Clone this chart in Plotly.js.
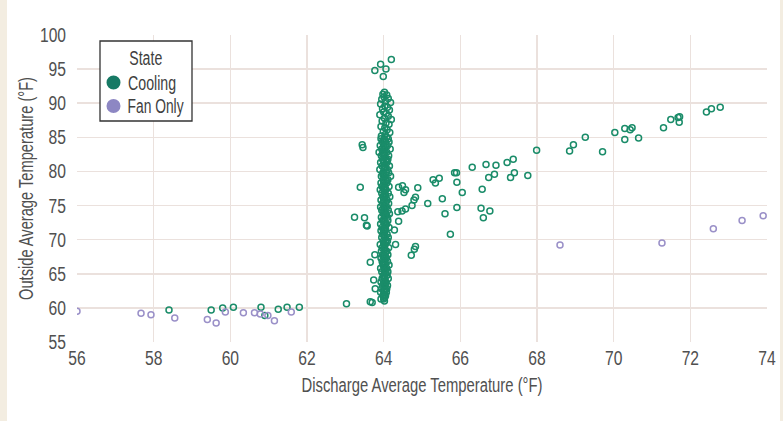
<!DOCTYPE html>
<html>
<head>
<meta charset="utf-8">
<script src="https://cdn.plot.ly/plotly-3.0.1.min.js"></script>
<style>
html,body{margin:0;padding:0;background:#fff;}
#chart{width:783px;height:421px;}
</style>
</head>
<body>
<div id="chart"></div>
<script>
// ---- Data ----
// Cooling: the dense column at ~64 °F discharge
var columnX = [
  64.02,63.98,64.08,64.01,64.12,63.95,64.05,64.18,63.92,64.03,64.10,63.97,64.15,64.00,64.07,63.90,64.12,64.02,64.20,63.96,64.06,64.14,63.93,64.03,64.09,63.99,64.16,64.04,63.94,64.08,
  64.01,63.93,64.12, 64.05,63.97,64.14, 64.00,64.10,63.91, 64.03,63.95,64.17, 64.08,63.99,63.88,
  64.02,64.13,63.94, 64.06,63.97,64.11, 64.00,64.09,63.92, 64.04,63.96,64.15, 64.01,64.10,63.90,
  64.07,63.98,64.13, 64.02,63.94,64.18, 64.05,63.99,64.11, 64.00,64.08,63.93, 64.03,63.96,64.14,
  64.06,64.01,63.91, 64.02,64.12,63.95, 64.04,63.98,64.16, 64.00,64.09,63.93, 64.05,63.97,64.13,
  64.02,64.08,63.92, 64.01,63.95,64.12, 64.06,63.99,64.15, 64.03,64.10,63.94, 64.00,63.97,64.11,
  64.05,64.08,63.92, 64.02,63.96,64.14, 64.04,64.00,63.93, 64.01,64.09,63.97, 64.03,63.95,64.12,
  64.06,63.99,64.10, 64.00,64.04,63.91, 64.02,63.96,64.13, 64.05,64.08,63.94, 64.01,63.97,64.11,
  64.03,64.07,63.93, 64.00,64.10,63.96, 64.04,63.98,64.14, 64.02,64.08,63.92, 64.05,63.95,64.11,
  64.01,63.99,64.09, 64.03,63.96,64.12, 64.00,64.06,63.93, 64.02,63.97,64.10, 64.04,64.08,63.95,
  64.01,63.92,64.07, 64.03,63.98,64.05, 64.00,63.93, 64.02,
  64.04,63.99, 64.06,64.01, 64.03,63.97, 64.08,64.00, 64.02,64.05, 63.98,64.04, 64.07,64.01,
  64.03,63.99, 64.05,64.02, 64.00,64.06, 64.04,63.98, 64.02,64.07, 64.01,64.03, 64.05,63.99,
  64.02,64.04, 64.06,64.00, 64.03,64.01, 63.99,64.05, 64.04,64.02, 64.01,64.06, 64.03,64.00,
  64.05,64.02, 64.00,64.04, 64.03,64.01
];
var columnY = [
  91.6,91.3,91.2,90.9,90.7,90.6,90.3,90.1,89.9,89.6,89.4,89.2,89.0,88.7,88.5,88.3,88.1,87.8,87.6,87.4,87.1,86.9,86.6,86.4,86.1,85.9,85.7,85.4,85.2,85.0,
  84.8,84.8,84.8, 84.3,84.3,84.3, 83.8,83.8,83.8, 83.3,83.3,83.3, 82.8,82.8,82.8,
  82.3,82.3,82.3, 81.8,81.8,81.8, 81.3,81.3,81.3, 80.8,80.8,80.8, 80.3,80.3,80.3,
  79.8,79.8,79.8, 79.3,79.3,79.3, 78.8,78.8,78.8, 78.3,78.3,78.3, 77.8,77.8,77.8,
  77.3,77.3,77.3, 76.8,76.8,76.8, 76.3,76.3,76.3, 75.8,75.8,75.8, 75.3,75.3,75.3,
  74.8,74.8,74.8, 74.3,74.3,74.3, 73.8,73.8,73.8, 73.3,73.3,73.3, 72.8,72.8,72.8,
  72.3,72.3,72.3, 71.8,71.8,71.8, 71.3,71.3,71.3, 70.8,70.8,70.8, 70.3,70.3,70.3,
  69.8,69.8,69.8, 69.3,69.3,69.3, 68.8,68.8,68.8, 68.3,68.3,68.3, 67.8,67.8,67.8,
  67.3,67.3,67.3, 66.8,66.8,66.8, 66.3,66.3,66.3, 65.8,65.8,65.8, 65.3,65.3,65.3,
  64.8,64.8,64.8, 64.3,64.3,64.3, 63.8,63.8,63.8, 63.3,63.3,63.3, 62.8,62.8,62.8,
  62.3,62.3,62.3, 61.8,61.8,61.8, 61.3,61.3, 61.0,
  84.55,84.55, 83.55,83.55, 82.55,82.55, 81.55,81.55, 80.55,80.55, 79.55,79.55, 78.55,78.55,
  77.55,77.55, 76.55,76.55, 75.55,75.55, 74.55,74.55, 73.55,73.55, 72.55,72.55, 71.55,71.55,
  70.55,70.55, 69.55,69.55, 68.55,68.55, 67.55,67.55, 66.55,66.55, 65.55,65.55, 64.55,64.55,
  63.55,63.55, 62.55,62.55, 61.55,61.55
];
// Cooling: scattered points away from the column
var coolingOtherX = [
  58.40,59.50,59.80,60.08,60.80,60.90,61.25,61.48,61.80,63.03,
  64.20,63.92,63.77,64.06,63.99,
  63.44,63.46,63.39,63.24,63.50,63.55,63.57,63.65,63.77,63.74,63.78,63.65,63.70,
  64.39,64.49,64.57,64.53,64.89,64.79,64.74,64.83,64.37,64.48,64.57,64.39,64.28,64.31,64.83,64.80,64.72,
  65.15,65.29,65.35,65.45,65.53,65.60,65.74,65.85,65.90,65.91,65.91,66.05,
  66.31,66.67,66.93,66.89,66.74,66.57,66.54,66.77,66.60,
  67.22,67.38,67.31,67.41,67.76,67.99,68.85,68.95,69.26,69.71,
  70.03,70.29,70.29,70.43,70.48,70.65,71.30,71.49,71.68,71.72,71.71,72.42,72.55,72.78
];
var coolingOtherY = [
  59.7,59.7,60.0,60.1,60.1,58.9,59.8,60.1,60.1,60.6,
  96.4,95.7,94.8,95.0,93.9,
  83.9,83.5,77.7,73.3,73.2,72.1,72.0,66.7,67.8,64.1,62.8,60.9,60.8,
  77.7,77.9,77.3,76.9,77.6,75.8,75.0,76.2,74.1,74.2,74.5,72.7,71.4,69.3,69.0,68.6,67.7,
  75.3,78.8,78.3,79.0,76.0,73.8,70.8,79.8,79.8,78.4,74.7,76.9,
  80.6,81.0,80.9,79.6,79.1,77.4,74.6,74.2,73.2,
  81.3,81.8,79.1,79.8,79.4,83.1,83.0,83.9,85.0,82.9,
  85.7,86.3,84.7,86.1,86.4,84.9,86.4,87.6,87.9,88.0,87.2,88.7,89.2,89.4
];
// Fan Only
var fanX = [56.00,57.67,57.93,58.55,59.40,59.63,59.87,60.34,60.63,60.78,60.98,61.15,61.59,68.60,71.26,72.60,73.35,73.90];
var fanY = [59.5,59.2,59.0,58.5,58.3,57.8,59.4,59.3,59.3,59.1,58.9,58.1,59.4,69.2,69.5,71.6,72.8,73.5];

var seriesNames = ['Cooling', 'Fan Only'];
var legendTitle = 'State';
var xTicks = [56,58,60,62,64,66,68,70,72,74];
var yTicks = [55,60,65,70,75,80,85,90,95,100];

// ---- Chart ----
var coolColor = '#1a8c69';
var fanColor = '#9a90c8';
var legendColors = ['#177a65', '#8d87c3'];
var FONT = '"Liberation Sans", Arial, sans-serif';
var TXT = '#505050';

var coolingX = columnX.concat(coolingOtherX);
var coolingY = columnY.concat(coolingOtherY);

var traces = [
  {x: coolingX, y: coolingY, type: 'scatter', mode: 'markers', name: seriesNames[0], showlegend: false,
   marker: {symbol: 'circle-open', size: 6, color: coolColor, line: {width: 1.5, color: coolColor}}},
  {x: fanX, y: fanY, type: 'scatter', mode: 'markers', name: seriesNames[1], showlegend: false,
   marker: {symbol: 'circle-open', size: 6, color: fanColor, line: {width: 1.5, color: fanColor}}}
];

var W = 783, H = 421, L = 77, R = 16, T = 35, B = 79;
var pw = W - L - R, ph = H - T - B;
function px2x(p) { return (p - L) / pw; }
function py2y(p) { return 1 - (p - T) / ph; }

// legend box geometry (pixels)
var lg = {x0: 100, x1: 192, y0: 41, y1: 121, titleX: 146, titleY: 58,
          dotX: 113.5, textX: 127.5, rowY: [82.5, 106]};
var legendTextW = {'State': 33, 'Cooling': 48, 'Fan Only': 56};

var shapes = [
  {type: 'rect', xref: 'paper', yref: 'paper', layer: 'below',
   x0: -L / pw, x1: px2x(7), y0: -B / ph, y1: 1 + T / ph, fillcolor: '#f3ede1', line: {width: 0}},
  {type: 'rect', xref: 'paper', yref: 'paper', layer: 'below',
   x0: px2x(780), x1: px2x(W), y0: -B / ph, y1: 1 + T / ph, fillcolor: '#f3ede1', line: {width: 0}},
  {type: 'rect', xref: 'paper', yref: 'paper', layer: 'above',
   x0: px2x(lg.x0), x1: px2x(lg.x1), y0: py2y(lg.y1), y1: py2y(lg.y0),
   fillcolor: '#ffffff', line: {width: 1.3, color: '#333333'}}
];
var annotations = [
  {xref: 'paper', yref: 'paper', x: px2x(lg.titleX), y: py2y(lg.titleY), xanchor: 'center', yanchor: 'middle',
   text: legendTitle, showarrow: false, font: {family: FONT, size: 19.5, color: '#404040'}}
];
seriesNames.forEach(function (nm, i) {
  shapes.push({type: 'circle', xref: 'paper', yref: 'paper', layer: 'above',
    xsizemode: 'pixel', ysizemode: 'pixel', xanchor: px2x(lg.dotX), yanchor: py2y(lg.rowY[i]),
    x0: -7, x1: 7, y0: -7, y1: 7, fillcolor: legendColors[i], line: {width: 0}});
  annotations.push({xref: 'paper', yref: 'paper', x: px2x(lg.textX + legendTextW[nm] / 2), y: py2y(lg.rowY[i]),
    xanchor: 'center', yanchor: 'middle', text: nm, showarrow: false,
    font: {family: FONT, size: 19.5, color: '#404040'}});
});

var layout = {
  width: W, height: H,
  margin: {l: L, r: R, t: T, b: B, pad: 0},
  paper_bgcolor: '#ffffff', plot_bgcolor: '#ffffff',
  font: {family: FONT, color: TXT, size: 17},
  showlegend: false,
  xaxis: {
    range: [56, 74], tickvals: xTicks, ticktext: xTicks.map(String),
    showgrid: true, gridcolor: '#ebe1dd', gridwidth: 1.5, zeroline: false, showline: false,
    ticks: '', ticklen: 0, ticklabelstandoff: 2, tickfont: {size: 20, color: TXT, family: FONT},
    title: {text: 'Discharge Average Temperature (°F)', font: {size: 19.5, color: TXT, family: FONT}, standoff: 10},
    automargin: false
  },
  yaxis: {
    range: [55, 100], tickvals: yTicks, ticktext: yTicks.map(String),
    showgrid: true, gridcolor: '#ebe1dd', gridwidth: 1.5, zeroline: false, showline: false,
    ticks: '', ticklen: 0, ticklabelstandoff: 10, tickfont: {size: 20, color: TXT, family: FONT},
    title: {text: 'Outside Average Temperature (°F)', font: {size: 19.5, color: TXT, family: FONT}, standoff: 0},
    automargin: false
  },
  shapes: shapes,
  annotations: annotations
};

// The reference uses a condensed face; squeeze glyphs horizontally to match its widths.
var titleW = {'Discharge Average Temperature (°F)': 241, 'Outside Average Temperature (°F)': 223};
function condense(gd) {
  var texts = gd.querySelectorAll('svg text');
  texts.forEach(function (t) {
    var s = t.textContent;
    var w = t.getComputedTextLength();
    var target = null;
    if (titleW[s] !== undefined) target = titleW[s];
    else if (legendTextW[s] !== undefined) target = legendTextW[s];
    else if (t.closest('.xtick') || t.closest('.ytick')) target = w * 0.78;
    if (target) {
      t.setAttribute('textLength', target.toFixed(1));
      t.setAttribute('lengthAdjust', 'spacingAndGlyphs');
    }
  });
  // the condensed y tick labels are narrower, so the y title sits closer to them
  var yt = gd.querySelector('text.ytitle');
  if (yt) {
    var tr = yt.getAttribute('transform') || '';
    yt.setAttribute('transform', 'translate(7,0) ' + tr);
  }
}

Plotly.newPlot('chart', traces, layout, {displayModeBar: false, staticPlot: true}).then(function (gd) {
  condense(gd);
});
</script>
</body>
</html>
